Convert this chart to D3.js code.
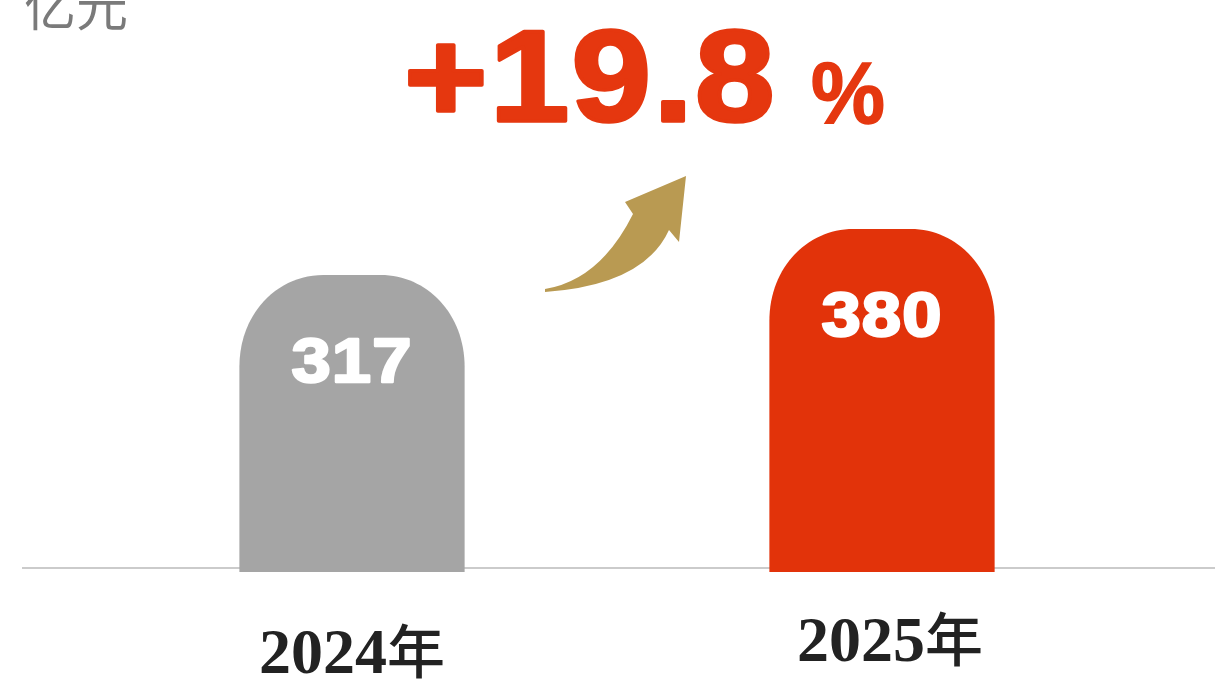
<!DOCTYPE html>
<html>
<head>
<meta charset="utf-8">
<script src="https://cdn.jsdelivr.net/npm/d3@7/dist/d3.min.js"></script>
<style>
  html, body { margin: 0; padding: 0; background: #ffffff; }
  svg { display: block; }
</style>
</head>
<body>
<svg id="chart" width="1215" height="681"></svg>
<script>
// ---- data ----
const categories = ["2024年", "2025年"];
const years = ["2024", "2025"];
const values = [317, 380];
const valueLabels = ["317", "380"];
const growthLabel = "+19.8";
const growthUnit = "%";
const unitLabel = "亿元";

// ---- styles ----
const barColors = ["#a5a5a5", "#e2330a"];
const accent = "#e5370f";
const arrowColor = "#b99a52";

const W = 1215, H = 681;
const svg = d3.select("#chart");

const x = d3.scaleBand()
  .domain(categories)
  .range([87, 1147])
  .paddingInner(0.575)
  .paddingOuter(0.2875);

const y = d3.scaleLinear()
  .domain([-87, 380])
  .range([570, 229]);

const baseY = y(-87);

// baseline
svg.append("line")
  .attr("x1", 22).attr("x2", W)
  .attr("y1", 568).attr("y2", 568)
  .attr("stroke", "#cbcbcb").attr("stroke-width", 2);

// rounded-top bar path
function capBar(x0, w, top, bottom) {
  const rx = 84, ry = 92;
  return `M${x0},${bottom}` +
    `L${x0},${top + ry}` +
    `C${x0},${top + ry * 0.42} ${x0 + rx * 0.45},${top} ${x0 + rx},${top}` +
    `L${x0 + w - rx},${top}` +
    `C${x0 + w - rx * 0.45},${top} ${x0 + w},${top + ry * 0.42} ${x0 + w},${top + ry}` +
    `L${x0 + w},${bottom}Z`;
}

const data = categories.map((c, i) => ({ c, year: years[i], v: values[i], label: valueLabels[i], i }));

svg.selectAll("path.bar")
  .data(data)
  .enter().append("path")
  .attr("class", "bar")
  .attr("d", d => capBar(x(d.c), x.bandwidth(), y(d.v), baseY + 2))
  .attr("fill", d => barColors[d.i]);

// value labels inside bars (horizontally widened heavy sans)
svg.selectAll("text.val")
  .data(data)
  .enter().append("text")
  .attr("class", "val")
  .attr("transform", d => `translate(${x(d.c) + x.bandwidth() / 2},${y(d.v) + 107}) scale(1.12,1)`)
  .attr("text-anchor", "middle")
  .attr("font-family", "'Liberation Sans', Arial, sans-serif")
  .attr("font-weight", "bold")
  .attr("font-size", 63)
  .attr("letter-spacing", 1)
  .attr("fill", "#ffffff")
  .attr("stroke", "#ffffff")
  .attr("stroke-width", 2.5)
  .attr("stroke-linejoin", "round")
  .text(d => d.label);

// category labels
const catOffsets = [105, 93];
const cats = svg.selectAll("text.cat")
  .data(data)
  .enter().append("text")
  .attr("class", "cat")
  .attr("x", d => x(d.c) + x.bandwidth() / 2 + (d.i === 0 ? 0 : 8))
  .attr("y", d => 568 + catOffsets[d.i])
  .attr("text-anchor", "middle")
  .attr("fill", "#222222");
cats.append("tspan")
  .attr("font-family", "'Liberation Serif', serif")
  .attr("font-weight", "bold")
  .attr("font-size", 64)
  .text(d => d.year);
cats.append("tspan")
  .attr("font-family", "'Noto Sans CJK SC', sans-serif")
  .attr("font-weight", "500")
  .attr("font-size", 58)
  .text(d => d.c.replace(d.year, ""));

// unit label
svg.append("text")
  .attr("x", 24).attr("y", 26)
  .attr("font-family", "'Noto Sans CJK SC', sans-serif")
  .attr("font-size", 52)
  .attr("fill", "#7a7a7a")
  .text(unitLabel);

// growth label
svg.append("text")
  .attr("transform", "translate(404,121) scale(1.1,1)")
  .attr("font-family", "'Liberation Sans', Arial, sans-serif")
  .attr("font-weight", "bold")
  .attr("font-size", 130)
  .attr("letter-spacing", 2)
  .attr("fill", accent)
  .attr("stroke", accent)
  .attr("stroke-width", 3.5)
  .attr("stroke-linejoin", "round")
  .text(growthLabel);

svg.append("text")
  .attr("x", 811).attr("y", 123)
  .attr("font-family", "'Liberation Sans', Arial, sans-serif")
  .attr("font-weight", "bold")
  .attr("font-size", 88)
  .attr("textLength", 74)
  .attr("lengthAdjust", "spacingAndGlyphs")
  .attr("fill", accent)
  .attr("stroke", accent)
  .attr("stroke-width", 1.5)
  .text(growthUnit);

// arrow between the bars
const mid = (x(categories[0]) + x.bandwidth() + x(categories[1])) / 2; // ~615
const ax = mid - 615, ay = 0;
const arrowPath = `M${543 + ax},${289 + ay}` +
  `Q${598 + ax},${280 + ay} ${631 + ax},${214 + ay}` +
  `L${623 + ax},${202 + ay}` +
  `L${684 + ax},${176 + ay}` +
  `L${677 + ax},${242 + ay}` +
  `L${667 + ax},${230 + ay}` +
  `Q${642 + ax},${285 + ay} ${543 + ax},${292 + ay}Z`;
svg.append("path")
  .attr("d", arrowPath)
  .attr("fill", arrowColor);
</script>
</body>
</html>
